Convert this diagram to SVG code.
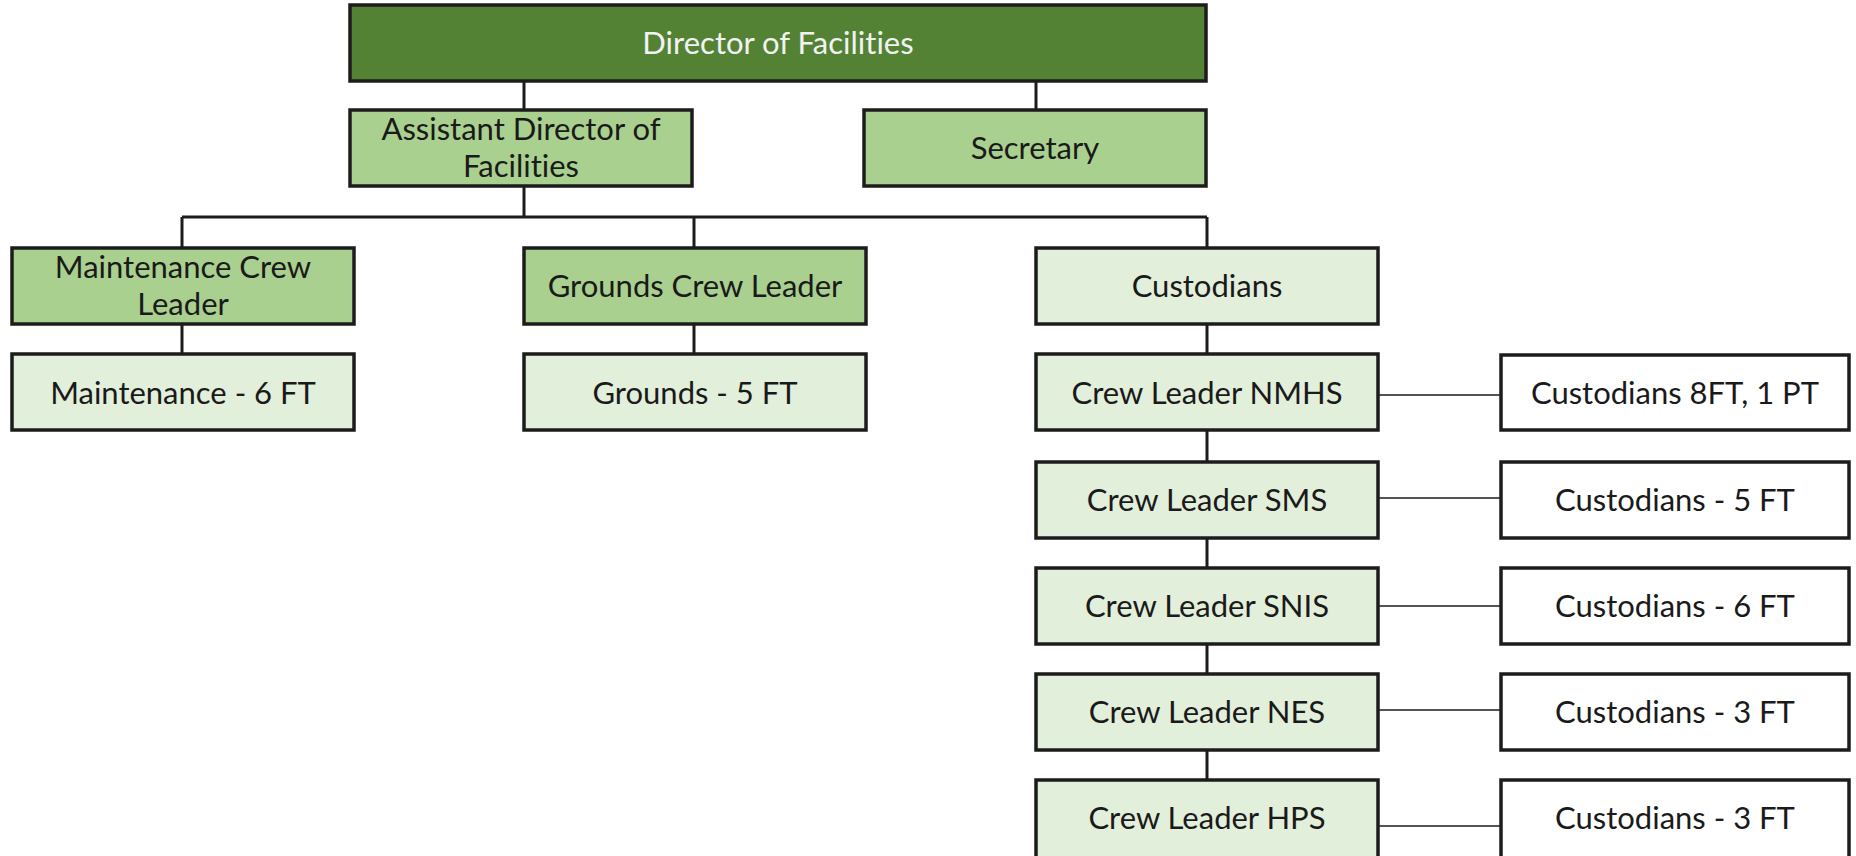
<svg xmlns="http://www.w3.org/2000/svg" width="1856" height="856" viewBox="0 0 1856 856">
<style>
.box{stroke:#1c1c1c;stroke-width:3.5}
.dark{fill:#548235}
.mid{fill:#a9d08e}
.light{fill:#e2efda}
.white{fill:#ffffff}
.t{font-family:Lato,"Open Sans",sans-serif;font-size:31px;fill:#1a1a1a;text-anchor:middle;font-variant-ligatures:none}
.tw{fill:#f2f2f2}
.tree{stroke:#1c1c1c;stroke-width:3;fill:none}
.side{stroke:#1c1c1c;stroke-width:1.6;fill:none}
</style>
<rect width="1856" height="856" fill="#ffffff"/>
<g id="connectors">
<path class="tree" d="M524 81V110M1036 81V110M524 186V217M182 217H1207M182 217V248M694 217V248M1207 217V248M182 324V354M694 324V354M1207 324V354M1207 430V462M1207 538V568M1207 644V674M1207 750V780"/>
<path class="side" d="M1378 395H1501M1378 498H1501M1378 606H1501M1378 710H1501M1378 826H1501"/>
</g>
<g id="director"><rect class="box dark" x="350" y="5" width="856" height="76"/><text class="t tw" x="778" y="54">Director of Facilities</text></g>
<g id="assistant"><rect class="box mid" x="350" y="110" width="342" height="76"/><text class="t" x="521" y="140">Assistant Director of</text><text class="t" x="521" y="177">Facilities</text></g>
<g id="secretary"><rect class="box mid" x="864" y="110" width="342" height="76"/><text class="t" x="1035" y="159">Secretary</text></g>
<g id="maint-leader"><rect class="box mid" x="12" y="248" width="342" height="76"/><text class="t" x="183" y="278">Maintenance Crew</text><text class="t" x="183" y="315">Leader</text></g>
<g id="grounds-leader"><rect class="box mid" x="524" y="248" width="342" height="76"/><text class="t" x="695" y="297">Grounds Crew Leader</text></g>
<g id="custodians"><rect class="box light" x="1036" y="248" width="342" height="76"/><text class="t" x="1207" y="297">Custodians</text></g>
<g id="maint"><rect class="box light" x="12" y="354" width="342" height="76"/><text class="t" x="183" y="404">Maintenance - 6 FT</text></g>
<g id="grounds"><rect class="box light" x="524" y="354" width="342" height="76"/><text class="t" x="695" y="404">Grounds - 5 FT</text></g>
<g id="nmhs"><rect class="box light" x="1036" y="354" width="342" height="76"/><text class="t" x="1207" y="404">Crew Leader NMHS</text></g>
<g id="nmhs-cust"><rect class="box white" x="1501" y="355" width="348" height="75"/><text class="t" x="1675" y="404">Custodians 8FT, 1 PT</text></g>
<g id="sms"><rect class="box light" x="1036" y="462" width="342" height="76"/><text class="t" x="1207" y="511">Crew Leader SMS</text></g>
<g id="sms-cust"><rect class="box white" x="1501" y="462" width="348" height="76"/><text class="t" x="1675" y="511">Custodians - 5 FT</text></g>
<g id="snis"><rect class="box light" x="1036" y="568" width="342" height="76"/><text class="t" x="1207" y="617">Crew Leader SNIS</text></g>
<g id="snis-cust"><rect class="box white" x="1501" y="568" width="348" height="76"/><text class="t" x="1675" y="617">Custodians - 6 FT</text></g>
<g id="nes"><rect class="box light" x="1036" y="674" width="342" height="76"/><text class="t" x="1207" y="723">Crew Leader NES</text></g>
<g id="nes-cust"><rect class="box white" x="1501" y="674" width="348" height="76"/><text class="t" x="1675" y="723">Custodians - 3 FT</text></g>
<g id="hps"><rect class="box light" x="1036" y="780" width="342" height="80"/><text class="t" x="1207" y="829">Crew Leader HPS</text></g>
<g id="hps-cust"><rect class="box white" x="1501" y="780" width="348" height="80"/><text class="t" x="1675" y="829">Custodians - 3 FT</text></g>
</svg>
